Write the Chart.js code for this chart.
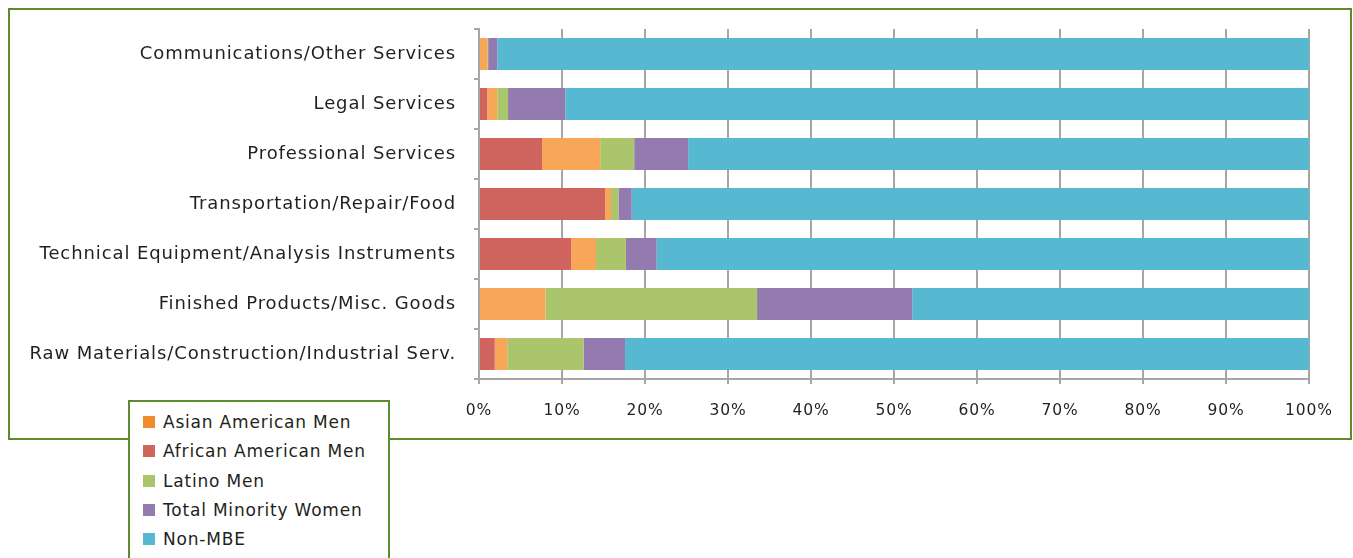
<!DOCTYPE html>
<html>
<head>
<meta charset="utf-8">
<script src="https://cdn.jsdelivr.net/npm/chart.js@4/dist/chart.umd.min.js"></script>
<style>
  html, body { margin: 0; padding: 0; background: #fff; }
  body { width: 1353px; height: 558px; position: relative; overflow: hidden; font-family: 'DejaVu Sans', sans-serif; }
  #frame { position: absolute; left: 8px; top: 8px; width: 1340px; height: 428px; border: 2px solid #5b8c2e; }
  #wrap { position: absolute; left: 0; top: 0; width: 1353px; height: 558px; }
  #legend { position: absolute; left: 128px; top: 400px; width: 258px; height: 170px; background: #fff; border: 2px solid #5b8c2e; }
  #legend .item { position: absolute; left: 13px; height: 20px; display: flex; align-items: center; font-size: 17px; letter-spacing: 0.8px; color: #231f20; white-space: nowrap; }
  #legend .sw { width: 12px; height: 12px; margin-right: 8px; }
</style>
</head>
<body>
<div id="frame"></div>
<div id="wrap"><canvas id="chart"></canvas></div>
<div id="legend"></div>
<script>
// categories (top to bottom)
const categories = [
  'Communications/Other Services',
  'Legal Services',
  'Professional Services',
  'Transportation/Repair/Food',
  'Technical Equipment/Analysis Instruments',
  'Finished Products/Misc. Goods',
  'Raw Materials/Construction/Industrial Serv.'
];

// percent shares per series
const africanAmericanMen = [0.0, 1.0, 7.6, 15.2, 11.1, 0.0, 1.9];
const asianAmericanMen   = [1.0, 1.2, 7.0, 0.7, 3.0, 8.0, 1.5];
const latinoMen          = [0.1, 1.3, 4.1, 0.9, 3.6, 25.5, 9.2];
const minorityWomen      = [1.1, 6.9, 6.5, 1.6, 3.7, 18.7, 5.0];
const nonMBE             = [97.8, 89.6, 74.8, 81.6, 78.6, 47.8, 82.4];

const xTicks = [0, 10, 20, 30, 40, 50, 60, 70, 80, 90, 100];

const seriesNames = ['Asian American Men', 'African American Men', 'Latino Men', 'Total Minority Women', 'Non-MBE'];
const legendColors = ['#ef8d2b', '#d0645f', '#abc56c', '#937bb0', '#57b9d1'];

// wider lettering, closer to the original typeface
const spacingPlugin = {
  id: 'spacing',
  beforeDraw(chart) { chart.ctx.letterSpacing = '0.9px'; },
};

const ctx = document.getElementById('chart');
const chart = new Chart(ctx, {
  type: 'bar',
  data: {
    labels: categories,
    datasets: [
      { label: 'African American Men', data: africanAmericanMen, backgroundColor: '#d0645f' },
      { label: 'Asian American Men', data: asianAmericanMen, backgroundColor: '#f8a657' },
      { label: 'Latino Men', data: latinoMen, backgroundColor: '#abc56c' },
      { label: 'Total Minority Women', data: minorityWomen, backgroundColor: '#937bb0' },
      { label: 'Non-MBE', data: nonMBE, backgroundColor: '#57b9d1' },
    ],
  },
  plugins: [spacingPlugin],
  options: {
    indexAxis: 'y',
    responsive: true,
    maintainAspectRatio: false,
    animation: false,
    datasets: { bar: { barPercentage: 0.64, categoryPercentage: 1.0, borderWidth: 0 } },
    layout: { padding: { left: 0, right: 44, top: 29, bottom: 129 } },
    plugins: {
      legend: { display: false },
      tooltip: { enabled: false },
    },
    scales: {
      x: {
        stacked: true,
        min: 0,
        max: 100,
        afterBuildTicks: s => { s.ticks = xTicks.map(v => ({ value: v })); },
        afterFit: s => { s.height = 50; },
        ticks: {
          color: '#231f20',
          font: { family: 'DejaVu Sans', size: 15.5 },
          padding: 18,
          callback: v => v + '%',
        },
        grid: { color: '#a6a6a6', lineWidth: 2, tickLength: 5, drawTicks: true },
        border: { color: '#a6a6a6', width: 2 },
      },
      y: {
        stacked: true,
        afterFit: s => { s.width = 479; },
        ticks: {
          color: '#231f20',
          font: { family: 'DejaVu Sans', size: 18 },
          padding: 18,
        },
        grid: { drawOnChartArea: false, color: '#a6a6a6', lineWidth: 2, tickLength: 5, offset: true },
        border: { color: '#a6a6a6', width: 2 },
      },
    },
  },
});

// legend box (built from the series names)
const lg = document.getElementById('legend');
seriesNames.forEach((name, i) => {
  const it = document.createElement('div');
  it.className = 'item';
  it.style.top = (10 + i * 29.3) + 'px';
  it.innerHTML = '<span class="sw" style="background:' + legendColors[i] + '"></span><span>' + name + '</span>';
  lg.appendChild(it);
});
</script>
</body>
</html>
